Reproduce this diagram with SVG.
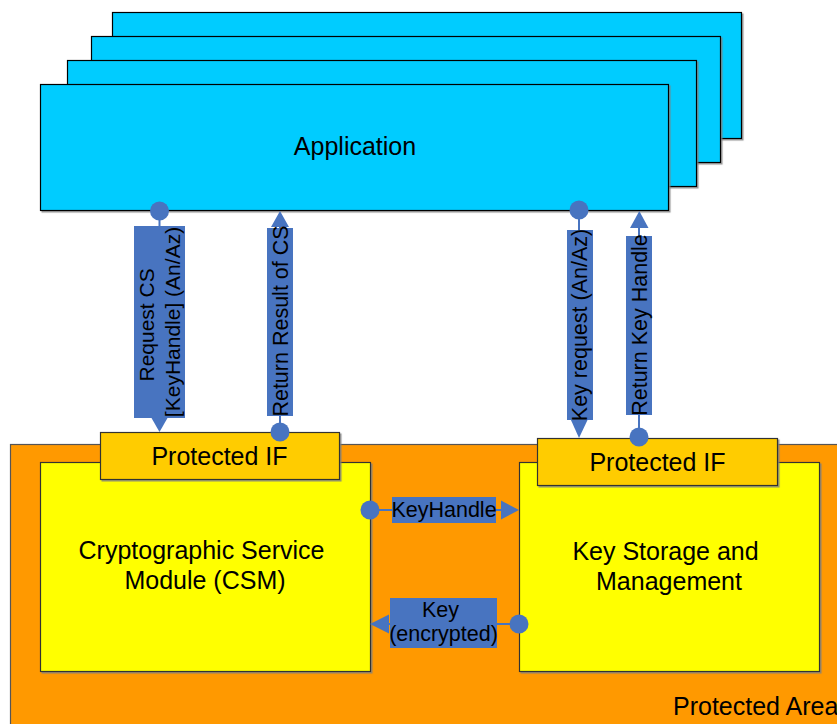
<svg xmlns="http://www.w3.org/2000/svg" width="837" height="724" viewBox="0 0 837 724">
  <defs>
    <filter id="shadow" x="-5%" y="-5%" width="110%" height="110%">
      <feDropShadow dx="1.5" dy="1.5" stdDeviation="0.4" flood-color="#7f7f7f" flood-opacity="0.8"/>
    </filter>
    <style>
      .app { fill: #00ccff; stroke: #000; stroke-width: 1.2; filter: url(#shadow); }
      .area { fill: #ff9900; stroke: #555; stroke-width: 1.2; filter: url(#shadow); }
      .module { fill: #ffff00; stroke: #333; stroke-width: 1.2; filter: url(#shadow); }
      .iface { fill: #ffcc00; stroke: #333; stroke-width: 1.2; filter: url(#shadow); }
      .t { font-family: "Liberation Sans", Arial, sans-serif; fill: #000; }
      .big { font-size: 25px; }
      .lbl { font-size: 21.5px; }
      .conn { stroke: #4874c0; stroke-width: 2; fill: none; }
      .dot, .head, .box { fill: #4874c0; stroke: none; }
    </style>
  </defs>

  <rect width="837" height="724" fill="#ffffff"/>

  <!-- stacked application instances -->
  <g id="application">
    <rect class="app" x="112.5" y="12.5" width="629" height="126"/>
    <rect class="app" x="91.5" y="36.5" width="629" height="126"/>
    <rect class="app" x="67.5" y="60.5" width="629" height="126"/>
    <rect class="app" x="40.5" y="84.5" width="628" height="126"/>
    <text class="t" x="355" y="155" font-size="25" text-anchor="middle">Application</text>
  </g>

  <!-- protected area background -->
  <g id="protected-area">
    <rect class="area" x="10.5" y="444.5" width="900" height="400"/>
    <text class="t big" x="673" y="715">Protected Area</text>
  </g>

  <g id="csm">
    <rect class="module" x="40.5" y="462.5" width="330" height="209"/>
    <text class="t big" text-anchor="middle">
      <tspan x="205" y="559">Cryptographic Service</tspan>
      <tspan x="205" y="589">Module (CSM)</tspan>
    </text>
  </g>

  <g id="ksm">
    <rect class="module" x="519.5" y="462.5" width="300" height="209"/>
    <text class="t big" text-anchor="middle">
      <tspan x="669" y="560">Key Storage and</tspan>
      <tspan x="669" y="590">Management</tspan>
    </text>
  </g>

  <g id="csm-if">
    <rect class="iface" x="100.5" y="432.5" width="239" height="47"/>
    <text class="t big" x="219.5" y="465" text-anchor="middle">Protected IF</text>
  </g>

  <g id="ksm-if">
    <rect class="iface" x="537.5" y="438.5" width="240" height="47"/>
    <text class="t big" x="657.5" y="471" text-anchor="middle">Protected IF</text>
  </g>

  <!-- flows between the components -->
  <g id="connectors">
    <!-- Request CS: application -> CSM -->
    <g id="request-cs">
      <line class="conn" x1="159.5" y1="211" x2="159.5" y2="226"/>
      <circle class="dot" cx="159.5" cy="211" r="9.5"/>
      <rect class="box" x="134" y="226" width="51" height="192"/>
      <polygon class="head" points="151.5,418 167.5,418 159.5,432"/>
      <text class="t" font-size="21" transform="translate(159.5,322) rotate(-90)" text-anchor="middle">
        <tspan x="0" y="-6">Request CS</tspan>
        <tspan x="0" y="20">[KeyHandle] (An/Az)</tspan>
      </text>
    </g>

    <!-- Return Result of CS: CSM -> application -->
    <g id="return-result">
      <line class="conn" x1="280" y1="226" x2="280" y2="432"/>
      <circle class="dot" cx="280" cy="432" r="9.5"/>
      <rect class="box" x="267" y="228" width="26" height="188"/>
      <polygon class="head" points="271,227 289,227 280,211"/>
      <text class="t lbl" transform="translate(287.5,321) rotate(-90)" text-anchor="middle">Return Result of CS</text>
    </g>

    <!-- Key request: application -> key storage -->
    <g id="key-request">
      <line class="conn" x1="579" y1="210" x2="579" y2="420"/>
      <circle class="dot" cx="579" cy="210" r="9.5"/>
      <rect class="box" x="567" y="230" width="26" height="190"/>
      <polygon class="head" points="570.5,419 588,419 579,438"/>
      <text class="t lbl" transform="translate(587,325) rotate(-90)" text-anchor="middle">Key request (An/Az)</text>
    </g>

    <!-- Return Key Handle: key storage -> application -->
    <g id="return-key-handle">
      <line class="conn" x1="639" y1="226" x2="639" y2="437"/>
      <circle class="dot" cx="639" cy="437" r="9.5"/>
      <rect class="box" x="626" y="236" width="26" height="179"/>
      <polygon class="head" points="630,228 648.5,228 639.3,211"/>
      <text class="t lbl" transform="translate(647,325) rotate(-90)" text-anchor="middle">Return Key Handle</text>
    </g>

    <!-- KeyHandle: CSM -> key storage -->
    <g id="keyhandle">
      <line class="conn" x1="370" y1="510" x2="502" y2="510"/>
      <circle class="dot" cx="370" cy="510" r="9.5"/>
      <rect class="box" x="392" y="497" width="104" height="26"/>
      <polygon class="head" points="501,500.5 501,519.5 519,510"/>
      <text class="t lbl" x="444" y="517" text-anchor="middle">KeyHandle</text>
    </g>

    <!-- Key (encrypted): key storage -> CSM -->
    <g id="key-encrypted">
      <line class="conn" x1="388" y1="624" x2="519" y2="624"/>
      <circle class="dot" cx="519" cy="624" r="9.5"/>
      <rect class="box" x="390" y="598" width="107" height="50"/>
      <polygon class="head" points="389,614.5 389,633.5 370,624"/>
      <text class="t lbl" text-anchor="middle">
        <tspan x="443.5" y="617">Key</tspan>
        <tspan x="443.5" y="641">(encrypted)</tspan>
      </text>
    </g>
  </g>
</svg>
